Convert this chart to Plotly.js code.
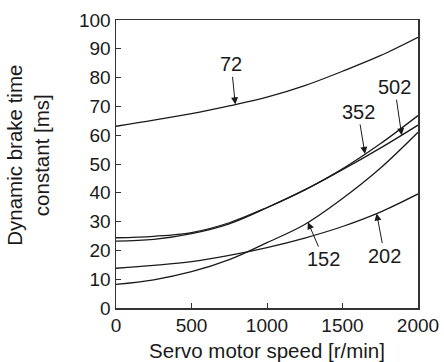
<!DOCTYPE html>
<html>
<head>
<meta charset="utf-8">
<script src="https://cdn.plot.ly/plotly-3.0.1.min.js"></script>
<style>html,body{margin:0;padding:0;background:#fff;}#chart{width:444px;height:362px;}</style>
</head>
<body>
<div id="chart"></div>
<script>
const speed = [0, 250, 500, 750, 1000, 1250, 1500, 1750, 2000];
const s72  = [63.1, 65.2, 67.5, 70.2, 73.2, 77.2, 82.2, 87.6, 94.0];
const s352 = [23.2, 23.8, 25.8, 29.2, 34.8, 41.0, 48.3, 57.0, 66.8];
const s502 = [24.4, 24.9, 26.2, 29.6, 34.9, 41.0, 48.0, 55.5, 63.5];
const s152 = [8.2, 9.8, 12.6, 16.8, 22.7, 29.0, 38.0, 48.5, 61.0];
const s202 = [13.8, 14.8, 16.1, 18.3, 21.0, 24.3, 28.3, 33.3, 39.6];
const seriesNames = ["72", "352", "502", "152", "202"];
const seriesData = [s72, s352, s502, s152, s202];
// label arrow targets (speed, value) and text offsets
const labelX = [790, 1649, 1892, 1271, 1726];
const labelY = [70.7, 53.5, 60.0, 29.8, 32.8];
const labelAx = [-4, -7, -7, 16, 8];
const labelAy = [-40, -42, -48, 37, 42];
const yTitle = 'Dynamic brake time<br>constant [ms]';
const xTitle = 'Servo motor speed [r/min]';

const traces = seriesData.map((d, i) => ({
  x: speed, y: d, name: seriesNames[i], type: 'scatter', mode: 'lines',
  line: {color: '#1a1a1a', width: 1.3, shape: 'spline', smoothing: 1},
  hoverinfo: 'skip'
}));

const fam = 'Liberation Sans, Arial, sans-serif';
const annotations = seriesNames.map((n, i) => ({
  x: labelX[i], y: labelY[i], xref: 'x', yref: 'y',
  text: n, showarrow: true, ax: labelAx[i], ay: labelAy[i],
  arrowhead: 2, arrowsize: 1.4, arrowwidth: 1, arrowcolor: '#1a1a1a',
  standoff: 0, startstandoff: 0,
  font: {family: fam, size: 20, color: '#1a1a1a'}
}));

const tickFont = {family: fam, size: 19, color: '#1a1a1a'};
const titleFont = {family: fam, size: 20.5, color: '#1a1a1a'};

annotations.push({
  xref: 'paper', yref: 'paper', x: -0.29, y: 0.53,
  xanchor: 'center', yanchor: 'middle', textangle: -90,
  text: yTitle, showarrow: false, align: 'center',
  font: titleFont
});

const layout = {
  width: 444, height: 362,
  margin: {l: 116, r: 26, t: 20, b: 54},
  paper_bgcolor: '#fff', plot_bgcolor: '#fff',
  showlegend: false,
  font: tickFont,
  xaxis: {
    range: [0, 2000], tickvals: [0, 500, 1000, 1500, 2000],
    ticks: 'inside', ticklen: 5, tickcolor: '#333', tickwidth: 1,
    showline: true, linecolor: '#333', linewidth: 1.5, mirror: true,
    showgrid: false, zeroline: false, tickfont: tickFont,
    title: {text: xTitle, font: titleFont, standoff: 8}
  },
  yaxis: {
    range: [0, 100], dtick: 10,
    ticks: 'inside', ticklen: 5, tickcolor: '#333', tickwidth: 1,
    showline: true, linecolor: '#333', linewidth: 1.5, mirror: true,
    showgrid: false, zeroline: false, tickfont: tickFont
  },
  annotations: annotations
};
Plotly.newPlot('chart', traces, layout, {staticPlot: true, displayModeBar: false});
</script>
</body>
</html>
